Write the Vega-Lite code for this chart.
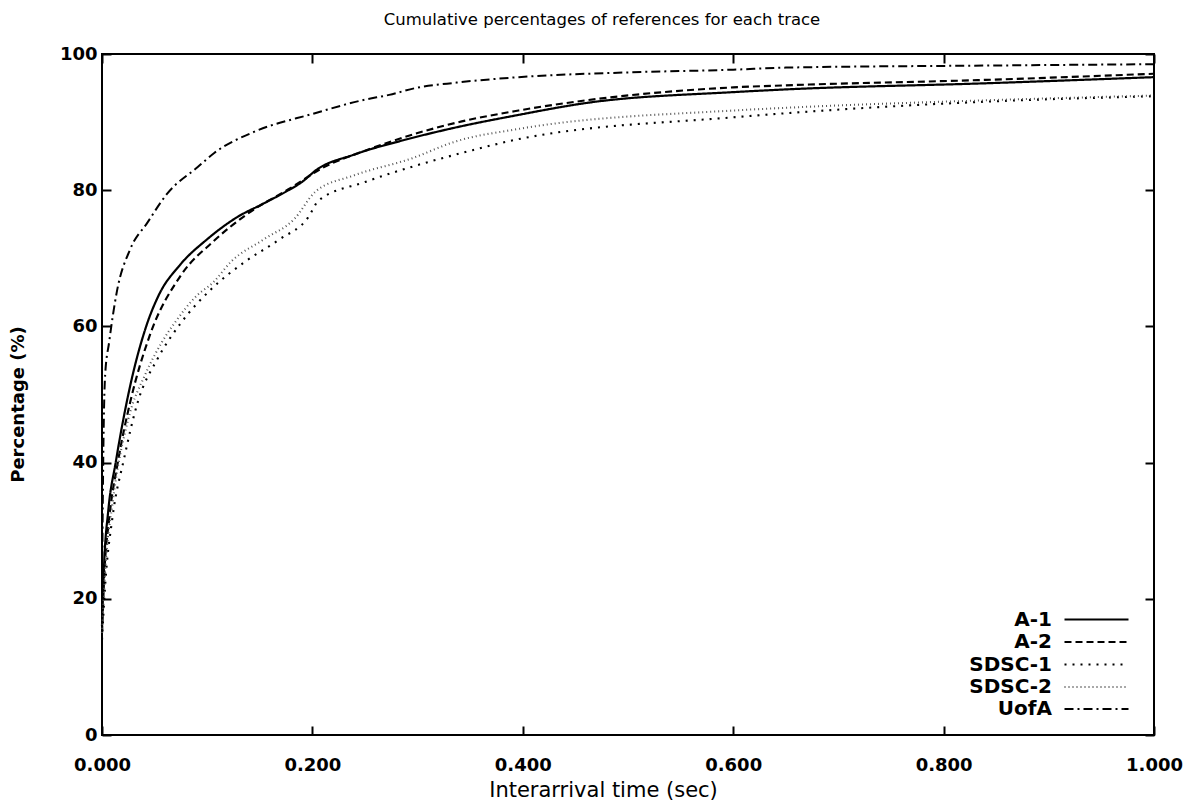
{
  "$schema": "https://vega.github.io/schema/vega-lite/v6.json",
  "autosize": {"type": "none"},
  "width": 1052,
  "height": 681,
  "padding": {"left": 102, "top": 54, "right": 47, "bottom": 72},
  "background": "white",
  "title": {
    "text": "Cumulative percentages of references for each trace",
    "font": "DejaVu Sans",
    "fontSize": 16.5,
    "fontWeight": "normal",
    "color": "black",
    "offset": 17,
    "dx": -26
  },
  "data": {
    "values": [
      {"trace": "A-1", "t": 0, "pct": 16},
      {"trace": "A-1", "t": 0.002, "pct": 25},
      {"trace": "A-1", "t": 0.006, "pct": 33},
      {"trace": "A-1", "t": 0.013, "pct": 40},
      {"trace": "A-1", "t": 0.025, "pct": 50},
      {"trace": "A-1", "t": 0.042, "pct": 60},
      {"trace": "A-1", "t": 0.054, "pct": 64.6},
      {"trace": "A-1", "t": 0.074, "pct": 69},
      {"trace": "A-1", "t": 0.1, "pct": 72.8},
      {"trace": "A-1", "t": 0.128, "pct": 76},
      {"trace": "A-1", "t": 0.153, "pct": 78},
      {"trace": "A-1", "t": 0.175, "pct": 79.8},
      {"trace": "A-1", "t": 0.19, "pct": 81.2},
      {"trace": "A-1", "t": 0.204, "pct": 83},
      {"trace": "A-1", "t": 0.239, "pct": 85.2},
      {"trace": "A-1", "t": 0.288, "pct": 87.4},
      {"trace": "A-1", "t": 0.336, "pct": 89.2},
      {"trace": "A-1", "t": 0.394, "pct": 91},
      {"trace": "A-1", "t": 0.46, "pct": 92.8},
      {"trace": "A-1", "t": 0.6, "pct": 94.4},
      {"trace": "A-1", "t": 0.65, "pct": 94.8},
      {"trace": "A-1", "t": 0.84, "pct": 95.7},
      {"trace": "A-1", "t": 1.0, "pct": 96.6},

      {"trace": "A-2", "t": 0, "pct": 15},
      {"trace": "A-2", "t": 0.002, "pct": 23},
      {"trace": "A-2", "t": 0.007, "pct": 32},
      {"trace": "A-2", "t": 0.015, "pct": 40},
      {"trace": "A-2", "t": 0.027, "pct": 49},
      {"trace": "A-2", "t": 0.045, "pct": 58.5},
      {"trace": "A-2", "t": 0.075, "pct": 67.5},
      {"trace": "A-2", "t": 0.106, "pct": 72.5},
      {"trace": "A-2", "t": 0.138, "pct": 76.5},
      {"trace": "A-2", "t": 0.179, "pct": 80.3},
      {"trace": "A-2", "t": 0.21, "pct": 83.3},
      {"trace": "A-2", "t": 0.25, "pct": 85.8},
      {"trace": "A-2", "t": 0.298, "pct": 88.3},
      {"trace": "A-2", "t": 0.342, "pct": 90.1},
      {"trace": "A-2", "t": 0.396, "pct": 91.7},
      {"trace": "A-2", "t": 0.6, "pct": 95.1},
      {"trace": "A-2", "t": 0.65, "pct": 95.4},
      {"trace": "A-2", "t": 0.84, "pct": 96.2},
      {"trace": "A-2", "t": 1.0, "pct": 97.1},

      {"trace": "SDSC-1", "t": 0, "pct": 14},
      {"trace": "SDSC-1", "t": 0.003, "pct": 22},
      {"trace": "SDSC-1", "t": 0.01, "pct": 32},
      {"trace": "SDSC-1", "t": 0.021, "pct": 40.6},
      {"trace": "SDSC-1", "t": 0.034, "pct": 48.9},
      {"trace": "SDSC-1", "t": 0.053, "pct": 55.3},
      {"trace": "SDSC-1", "t": 0.075, "pct": 60.5},
      {"trace": "SDSC-1", "t": 0.104, "pct": 65.5},
      {"trace": "SDSC-1", "t": 0.136, "pct": 69.5},
      {"trace": "SDSC-1", "t": 0.169, "pct": 72.8},
      {"trace": "SDSC-1", "t": 0.196, "pct": 76},
      {"trace": "SDSC-1", "t": 0.206, "pct": 78.5},
      {"trace": "SDSC-1", "t": 0.25, "pct": 81.2},
      {"trace": "SDSC-1", "t": 0.298, "pct": 83.6},
      {"trace": "SDSC-1", "t": 0.343, "pct": 85.5},
      {"trace": "SDSC-1", "t": 0.396, "pct": 87.5},
      {"trace": "SDSC-1", "t": 0.6, "pct": 90.7},
      {"trace": "SDSC-1", "t": 0.65, "pct": 91.3},
      {"trace": "SDSC-1", "t": 0.84, "pct": 93},
      {"trace": "SDSC-1", "t": 1.0, "pct": 93.8},

      {"trace": "SDSC-2", "t": 0, "pct": 15},
      {"trace": "SDSC-2", "t": 0.003, "pct": 24},
      {"trace": "SDSC-2", "t": 0.01, "pct": 34},
      {"trace": "SDSC-2", "t": 0.025, "pct": 46.4},
      {"trace": "SDSC-2", "t": 0.041, "pct": 52.9},
      {"trace": "SDSC-2", "t": 0.057, "pct": 57.7},
      {"trace": "SDSC-2", "t": 0.069, "pct": 60.5},
      {"trace": "SDSC-2", "t": 0.09, "pct": 64.5},
      {"trace": "SDSC-2", "t": 0.106, "pct": 66.5},
      {"trace": "SDSC-2", "t": 0.122, "pct": 69.4},
      {"trace": "SDSC-2", "t": 0.154, "pct": 72.8},
      {"trace": "SDSC-2", "t": 0.183, "pct": 75.8},
      {"trace": "SDSC-2", "t": 0.203, "pct": 79.8},
      {"trace": "SDSC-2", "t": 0.24, "pct": 82.2},
      {"trace": "SDSC-2", "t": 0.295, "pct": 84.7},
      {"trace": "SDSC-2", "t": 0.335, "pct": 87.1},
      {"trace": "SDSC-2", "t": 0.396, "pct": 89},
      {"trace": "SDSC-2", "t": 0.6, "pct": 91.7},
      {"trace": "SDSC-2", "t": 0.65, "pct": 92.1},
      {"trace": "SDSC-2", "t": 0.84, "pct": 93.2},
      {"trace": "SDSC-2", "t": 1.0, "pct": 93.9},

      {"trace": "UofA", "t": 0, "pct": 20},
      {"trace": "UofA", "t": 0.001, "pct": 38},
      {"trace": "UofA", "t": 0.003, "pct": 52.9},
      {"trace": "UofA", "t": 0.0068, "pct": 57.7},
      {"trace": "UofA", "t": 0.014, "pct": 65},
      {"trace": "UofA", "t": 0.027, "pct": 71.4},
      {"trace": "UofA", "t": 0.043, "pct": 75.2},
      {"trace": "UofA", "t": 0.062, "pct": 79.5},
      {"trace": "UofA", "t": 0.091, "pct": 83.4},
      {"trace": "UofA", "t": 0.107, "pct": 85.5},
      {"trace": "UofA", "t": 0.145, "pct": 88.6},
      {"trace": "UofA", "t": 0.2, "pct": 91.2},
      {"trace": "UofA", "t": 0.25, "pct": 93.3},
      {"trace": "UofA", "t": 0.273, "pct": 94},
      {"trace": "UofA", "t": 0.298, "pct": 95},
      {"trace": "UofA", "t": 0.337, "pct": 95.8},
      {"trace": "UofA", "t": 0.396, "pct": 96.6},
      {"trace": "UofA", "t": 0.5, "pct": 97.3},
      {"trace": "UofA", "t": 0.6, "pct": 97.7},
      {"trace": "UofA", "t": 0.65, "pct": 98.0},
      {"trace": "UofA", "t": 0.84, "pct": 98.3},
      {"trace": "UofA", "t": 1.0, "pct": 98.5}
    ]
  },
  "layer": [
    {
      "mark": {"type": "line", "interpolate": "monotone"},
      "encoding": {
        "x": {
          "field": "t", "type": "quantitative",
          "scale": {"domain": [0, 1], "nice": false},
          "axis": {
            "orient": "bottom", "values": [0, 0.2, 0.4, 0.6, 0.8, 1.0], "format": ".3f",
            "title": "Interarrival time (sec)",
            "titleX": 501, "titleY": 61, "titleBaseline": "alphabetic", "titleAnchor": "start", "titleAlign": "center",
            "titleFont": "DejaVu Sans", "titleFontSize": 21, "titleFontWeight": "normal",
            "labelFont": "DejaVu Sans", "labelFontSize": 18, "labelFontWeight": "bold",
            "labelPadding": 30, "labelFlush": false
          }
        },
        "y": {
          "field": "pct", "type": "quantitative",
          "scale": {"domain": [0, 100], "nice": false},
          "axis": {
            "orient": "left", "values": [0, 20, 40, 60, 80, 100],
            "title": "Percentage (%)",
            "titleX": -75, "titleY": 350, "titleAnchor": "start", "titleAlign": "center", "titleBaseline": "bottom",
            "titleFont": "DejaVu Sans", "titleFontSize": 18, "titleFontWeight": "bold",
            "labelFont": "DejaVu Sans", "labelFontSize": 18, "labelFontWeight": "bold",
            "labelPadding": 14
          }
        },
        "strokeDash": {
          "field": "trace", "type": "nominal", "title": null,
          "scale": {
            "domain": ["A-1", "A-2", "SDSC-1", "SDSC-2", "UofA"],
            "range": [[1, 0], [7, 4], [2, 6], [1, 3], [9, 4, 2, 4]]
          }
        },
        "color": {
          "field": "trace", "type": "nominal", "title": null,
          "scale": {
            "domain": ["A-1", "A-2", "SDSC-1", "SDSC-2", "UofA"],
            "range": ["#000000", "#000000", "#000000", "#555555", "#000000"]
          }
        },
        "strokeWidth": {
          "field": "trace", "type": "nominal", "title": null,
          "scale": {
            "domain": ["A-1", "A-2", "SDSC-1", "SDSC-2", "UofA"],
            "range": [2.2, 2, 2.4, 1.2, 2]
          }
        }
      }
    },
    {
      "mark": {"type": "line", "opacity": 0},
      "encoding": {
        "x": {
          "field": "t", "type": "quantitative",
          "scale": {"domain": [0, 1], "nice": false},
          "axis": {"orient": "top", "values": [0, 0.2, 0.4, 0.6, 0.8, 1.0], "labels": false, "title": null}
        },
        "y": {
          "field": "pct", "type": "quantitative",
          "scale": {"domain": [0, 100], "nice": false},
          "axis": {"orient": "right", "values": [0, 20, 40, 60, 80, 100], "labels": false, "title": null}
        },
        "detail": {"field": "trace"}
      }
    }
  ],
  "resolve": {"axis": {"x": "independent", "y": "independent"}},
  "config": {
    "view": {"stroke": "black", "strokeWidth": 2},
    "axis": {
      "domain": false,
      "grid": false,
      "ticks": true,
      "tickSize": -9,
      "tickWidth": 2,
      "tickColor": "black",
      "labelColor": "black",
      "titleColor": "black"
    },
    "legend": {
      "orient": "none",
      "legendX": 983,
      "legendY": 554,
      "symbolType": "M-3.2,0H3.2",
      "symbolSize": 400,
      "symbolFillColor": "transparent",
      "labelFont": "DejaVu Sans",
      "labelFontSize": 20,
      "labelFontWeight": "bold",
      "labelColor": "black",
      "labelAlign": "right",
      "labelOffset": -56,
      "rowPadding": 0.5
    }
  }
}
